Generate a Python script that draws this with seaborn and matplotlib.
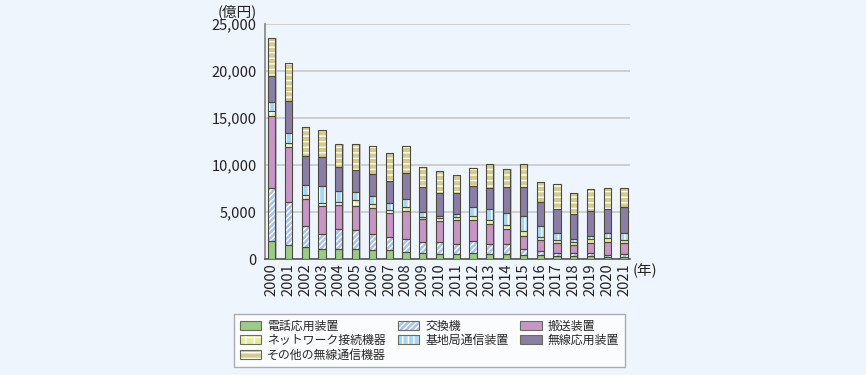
import numpy as np
import pandas as pd
import matplotlib
matplotlib.use("Agg")
import matplotlib.pyplot as plt
import seaborn as sns

# 年
years = [str(y) for y in range(2000, 2022)]

# 各装置の生産額(千億円単位で読み取り)
denwa = [1.9, 1.45, 1.31, 1.1, 1.1, 1.03, 0.92, 0.92, 0.71, 0.6, 0.55,
         0.53, 0.6, 0.53, 0.5, 0.43, 0.43, 0.35, 0.35, 0.35, 0.25, 0.18]
koukan = [5.7, 4.65, 2.24, 1.6, 2.06, 2.06, 1.7, 1.38, 1.38, 1.18, 1.22,
          1.1, 1.31, 1.07, 1.06, 0.63, 0.42, 0.25, 0.25, 0.25, 0.18, 0.32]
hansou = [7.65, 5.78, 2.8, 2.9, 2.55, 2.55, 2.77, 2.56, 3.05, 2.44, 2.31,
          2.52, 2.24, 2.09, 1.6, 1.42, 1.17, 1.07, 0.89, 1.07, 1.41, 1.24]
network = [0.5, 0.42, 0.42, 0.32, 0.35, 0.6, 0.46, 0.35, 0.39, 0.25, 0.25,
           0.35, 0.42, 0.46, 0.49, 0.5, 0.28, 0.35, 0.35, 0.42, 0.36, 0.28]
kichi = [0.93, 1.07, 1.13, 1.81, 1.21, 0.85, 0.89, 0.78, 0.82, 0.5, 0.3,
         0.25, 1.0, 1.13, 1.28, 1.63, 1.21, 0.71, 0.35, 0.42, 0.53, 0.71]
musen = [2.83, 3.47, 3.06, 3.09, 2.48, 2.38, 2.3, 2.34, 2.76, 2.66, 2.44,
         2.24, 2.23, 2.24, 2.77, 3.02, 2.59, 2.55, 2.66, 2.65, 2.55, 2.77]
sonota = [3.98, 4.06, 3.11, 2.87, 2.45, 2.73, 2.98, 2.98, 2.95, 2.12, 2.33,
          1.91, 1.88, 2.55, 1.84, 2.44, 2.06, 2.67, 2.23, 2.27, 2.31, 2.09]

series_names = ["電話応用装置", "交換機", "搬送装置", "ネットワーク接続機器",
                "基地局通信装置", "無線応用装置", "その他の無線通信機器"]
series_vals = [denwa, koukan, hansou, network, kichi, musen, sonota]

df = pd.DataFrame({n: np.array(v) * 1000 for n, v in zip(series_names, series_vals)},
                  index=years)

colors = ["#9ccb86", "#a9c3ec", "#c896c6", "#e4ee9c", "#a6d8f6", "#8a7ea6", "#d3cb8e"]
hatches = [None, "//////", None, "++", "|||", None, "---"]

bg = "#eef5fd"
sns.set_theme(style="white")
plt.rcParams["font.family"] = ["Noto Sans CJK JP", "DejaVu Sans"]
plt.rcParams["hatch.linewidth"] = 1.0

fig = plt.figure(figsize=(8.66, 3.75), dpi=100, facecolor=bg)
ax = fig.add_axes([0.306, 0.309, 0.421, 0.627], facecolor=bg)

x = np.arange(len(years))
width = 0.43
bottom = np.zeros(len(years))
handles = []
for name, col, h in zip(series_names, colors, hatches):
    vals = df[name].values
    # 影
    ax.bar(x + 0.08, vals, width, bottom=bottom, color="#b9bcc2", linewidth=0, zorder=2)
    ax.bar(x, vals, width, bottom=bottom, color=col, hatch=h,
           edgecolor="white", linewidth=0, zorder=3)
    ax.bar(x, vals, width, bottom=bottom, fill=False,
           edgecolor="#4d4a3c", linewidth=0.8, zorder=4)
    fill_patch = plt.Rectangle((0, 0), 1, 1, facecolor=col, hatch=h,
                               edgecolor="white", linewidth=0)
    edge_patch = plt.Rectangle((0, 0), 1, 1, fill=False,
                               edgecolor="#6b6b5a", linewidth=0.8)
    handles.append((fill_patch, edge_patch))
    bottom += vals

ax.set_xlim(-0.4, 21.33)
ax.set_ylim(0, 25000)
ax.set_yticks(range(0, 25001, 5000))
ax.set_yticklabels([f"{v:,}" for v in range(0, 25001, 5000)], fontsize=10.5, color="#222222")
ax.set_xticks(x)
ax.set_xticklabels(years, rotation=90, fontsize=10.5, color="#222222")
ax.tick_params(axis="x", length=0, pad=3)
ax.tick_params(axis="y", length=0, pad=6)
ax.set_xticks(np.arange(0.5, 21, 1), minor=True)
ax.tick_params(axis="x", which="minor", direction="in", length=4, color="#999999", width=1)
ax.yaxis.grid(True, color="#c8c8c8", linewidth=1.2, zorder=0)
ax.set_axisbelow(True)
for s in ["top", "right"]:
    ax.spines[s].set_visible(False)
ax.spines["left"].set_color("#888888")
ax.spines["bottom"].set_color("#555555")
ax.spines["bottom"].set_linewidth(1.2)

fig.text(237 / 866, 1 - 12 / 375, "(億円)", ha="center", va="center", fontsize=10.5, color="#222222")
fig.text(633 / 866, 1 - 271 / 375, "(年)", ha="left", va="center", fontsize=10.5, color="#222222")

order = [0, 3, 6, 1, 4, 2, 5]
leg = fig.legend([handles[i] for i in order], [series_names[i] for i in order],
                 ncol=3, loc="center", bbox_to_anchor=(429.5 / 866, 1 - 340.5 / 375),
                 fontsize=8.6, frameon=True, fancybox=False, handlelength=1.8,
                 handleheight=0.8, columnspacing=1.0, labelspacing=0.12,
                 handletextpad=0.5, borderpad=0.45)
leg.get_frame().set_edgecolor("#999999")
leg.get_frame().set_facecolor("white")
leg.get_frame().set_linewidth(1.0)

fig.savefig("out.png", dpi=100, facecolor=bg)
